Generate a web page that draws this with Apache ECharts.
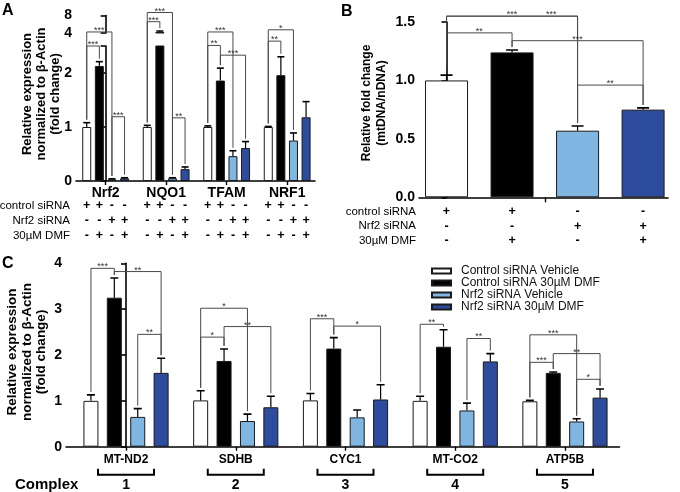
<!DOCTYPE html>
<html><head><meta charset="utf-8">
<script src="https://cdn.jsdelivr.net/npm/echarts@6/dist/echarts.min.js"></script>
<style>html,body{margin:0;padding:0;background:#fff}#c{width:680px;height:492px}</style>
</head><body><div id="c"></div>
<script>
// ---------- shared ----------
const seriesNames = ['Control siRNA Vehicle', 'Control siRNA 30µM DMF', 'Nrf2 siRNA Vehicle', 'Nrf2 siRNA 30µM DMF'];
const barColors = ['#ffffff', '#000000', '#7fb6e2', '#2e4c9d'];
const tableRows = ['control siRNA', 'Nrf2 siRNA', '30µM DMF'];
const ctrlSiRNA = ['+', '+', '-', '-'];
const nrf2SiRNA = ['-', '-', '+', '+'];
const dmfRow = ['-', '+', '-', '+'];

// ---------- panel A ----------
const genesA = ['Nrf2', 'NQO1', 'TFAM', 'NRF1'];
const aVehCtrl = [1.00, 1.00, 1.00, 1.00];
const aDmfCtrl = [2.13, 4.25, 1.86, 1.96];
const aVehNrf2 = [0.03, 0.05, 0.46, 0.75];
const aDmfNrf2 = [0.05, 0.22, 0.61, 1.18];
const aSemVehCtrl = [0.08, 0.03, 0.02, 0.01];
const aSemDmfCtrl = [0.08, 0.20, 0.23, 0.34];
const aSemVehNrf2 = [0.01, 0.01, 0.10, 0.14];
const aSemDmfNrf2 = [0.01, 0.04, 0.12, 0.29];
const aLowLabels = [0, 1, 2];
const aLowTicks = [0, 1, 2, 2.5];
const aUpTicks = [4, 8];
// [groupA, barA, groupB, barB, level, label, legEndA, legEndB, labelPos]
const bracketsA = [
  [0, 0, 0, 1, 2.50, '***'], [0, 0, 0, 2, 2.76, '***'], [0, 2, 0, 3, 1.19, '***'],
  [1, 0, 1, 1, 2.95, '***', null, 2.83], [1, 0, 1, 2, 3.12, '***'], [1, 2, 1, 3, 1.17, '**'],
  [2, 0, 2, 1, 2.51, '**'], [2, 0, 2, 2, 2.76, '***'], [2, 1, 2, 3, 2.33, '***'],
  [3, 0, 3, 1, 2.59, '**'], [3, 0, 3, 2, 2.80, '*']
];

// ---------- panel B ----------
const bValues = [1.00, 1.24, 0.57, 0.75];
const bSem = [0.045, 0.02, 0.04, 0.015];
const bTicks = [0, 0.5, 1.0, 1.5];
const bracketsB = [
  [0, 0, 2, 0, 1.55, '***', 1.12, null, 0.5], [0, 0, 2, 0, 1.55, '***', 1.12, null, 0.8],
  [0, 0, 1, 0, 1.407, '**', 1.12], [1, 0, 3, 0, 1.34, '***'], [2, 0, 3, 0, 0.96, '**']
];

// ---------- panel C ----------
const genesC = ['MT-ND2', 'SDHB', 'CYC1', 'MT-CO2', 'ATP5B'];
const complexes = ['1', '2', '3', '4', '5'];
const cVehCtrl = [1.00, 1.01, 1.01, 1.00, 0.99];
const cDmfCtrl = [3.25, 1.87, 2.14, 2.18, 1.61];
const cVehNrf2 = [0.65, 0.56, 0.64, 0.79, 0.55];
const cDmfNrf2 = [1.61, 0.86, 1.03, 1.86, 1.07];
const cSemVehCtrl = [0.13, 0.21, 0.15, 0.10, 0.02];
const cSemDmfCtrl = [0.43, 0.26, 0.24, 0.37, 0.02];
const cSemVehNrf2 = [0.18, 0.15, 0.16, 0.16, 0.06];
const cSemDmfNrf2 = [0.32, 0.24, 0.32, 0.17, 0.19];
const cTicks = [0, 1, 2, 3, 4];
const bracketsC = [
  [0, 0, 0, 1, 3.89, '***'], [0, 1, 0, 3, 3.82, '**'], [0, 2, 0, 3, 2.45, '**'],
  [1, 0, 1, 2, 3.02, '*'], [1, 0, 1, 1, 2.39, '*'], [1, 1, 1, 3, 2.62, '**'],
  [2, 0, 2, 1, 2.79, '***'], [2, 1, 2, 3, 2.63, '*'],
  [3, 0, 3, 1, 2.67, '**'], [3, 2, 3, 3, 2.36, '**'],
  [4, 0, 4, 2, 2.44, '***'], [4, 1, 4, 3, 2.03, '**'], [4, 0, 4, 1, 1.84, '***'], [4, 2, 4, 3, 1.47, '*']
];

// ---------- helpers ----------
const FF = "'Liberation Sans', Arial, sans-serif";
const FN = "'Liberation Sans Narrow', 'Arial Narrow', 'Liberation Sans', Arial, sans-serif";
const aVals = [aVehCtrl, aDmfCtrl, aVehNrf2, aDmfNrf2];
const aSems = [aSemVehCtrl, aSemDmfCtrl, aSemVehNrf2, aSemDmfNrf2];
const cVals = [cVehCtrl, cDmfCtrl, cVehNrf2, cDmfNrf2];
const cSems = [cSemVehCtrl, cSemDmfCtrl, cSemVehNrf2, cSemDmfNrf2];
const signRows = [ctrlSiRNA, nrf2SiRNA, dmfRow];

const A = { bw: 9, gap: 0.4, cap: 7 };
const B = { bw: 43, gap: 0.3, cap: 12 };
const C = { bw: 15, gap: 0.56, cap: 8 };

function offset(s, nSer, L) { return (s - (nSer - 1) / 2) * L.bw * (1 + L.gap); }

function barSeries(xi, yi, vals, L) {
  return vals.map((arr, s) => ({
    type: 'bar', name: seriesNames[s], xAxisIndex: xi, yAxisIndex: yi,
    data: arr.map((v, g) => [g, v]), barWidth: L.bw, barGap: (L.gap * 100) + '%',
    itemStyle: { color: barColors[s], borderColor: '#1a1a1a', borderWidth: 1 },
    clip: true, silent: true, z: 2
  }));
}

function errorSeries(xi, yi, vals, sems, L) {
  const nSer = vals.length, items = [];
  vals.forEach((arr, s) => arr.forEach((v, g) => items.push([g, s])));
  return {
    type: 'custom', xAxisIndex: xi, yAxisIndex: yi, clip: true, silent: true, z: 5,
    data: items.map(() => [0, 0]),
    renderItem(params, api) {
      const [g, s] = items[params.dataIndex];
      const m = vals[s][g], t = m + sems[s][g];
      const x = api.coord([g, m])[0] + offset(s, nSer, L);
      const y0 = api.coord([g, m])[1], y1 = api.coord([g, t])[1];
      return { type: 'group', children: [
        { type: 'line', shape: { x1: x, y1: y0, x2: x, y2: y1 }, style: { stroke: '#000', lineWidth: 1.2 } },
        { type: 'line', shape: { x1: x - L.cap / 2, y1: y1, x2: x + L.cap / 2, y2: y1 }, style: { stroke: '#000', lineWidth: 1.6 } }
      ] };
    }
  };
}

function bracketSeries(xi, yi, list, vals, sems, L) {
  const nSer = vals.length;
  return {
    type: 'custom', xAxisIndex: xi, yAxisIndex: yi, clip: false, silent: true, z: 6,
    data: list.map(() => [0, 0]),
    renderItem(params, api) {
      const [gA, sA, gB, sB, level, label, endA, endB, frac] = list[params.dataIndex];
      const xA = api.coord([gA, 0])[0] + offset(sA, nSer, L);
      const xB = api.coord([gB, 0])[0] + offset(sB, nSer, L);
      const yL = api.coord([0, level])[1];
      const legEnd = (g, s, e) => e != null ? api.coord([0, e])[1] : api.coord([0, vals[s][g] + sems[s][g]])[1] - 3;
      const yA = legEnd(gA, sA, endA), yB = legEnd(gB, sB, endB);
      const f = frac != null ? frac : 0.5;
      return { type: 'group', children: [
        { type: 'polyline', shape: { points: [[xA, yA], [xA, yL], [xB, yL], [xB, yB]] }, style: { stroke: '#4a4a4a', lineWidth: 1, fill: 'none' } },
        { type: 'text', x: xA + (xB - xA) * f, y: yL + 3, style: { text: label, font: '9px ' + FF, fill: '#333', align: 'center', verticalAlign: 'bottom' } }
      ] };
    }
  };
}

function tableSeries(xi, yi, nGroups, nSer, L, rowOffsets) {
  const items = [];
  for (let g = 0; g < nGroups; g++) for (let s = 0; s < nSer; s++) items.push([g, s]);
  return {
    type: 'custom', xAxisIndex: xi, yAxisIndex: yi, clip: false, silent: true, z: 6,
    data: items.map(() => [0, 0]),
    renderItem(params, api) {
      const [g, s] = items[params.dataIndex];
      const p = api.coord([g, 0]);
      const x = p[0] + offset(s, nSer, L);
      const cond = nSer === 1 ? g : s;
      return { type: 'group', children: signRows.map((row, k) => ({
        type: 'text', x: x, y: p[1] + rowOffsets[k],
        style: { text: row[cond], font: 'bold 12.5px ' + FF, fill: '#000', align: 'center', verticalAlign: 'middle' }
      })) };
    }
  };
}

function complexSeries(xi, yi) {
  return {
    type: 'custom', xAxisIndex: xi, yAxisIndex: yi, clip: false, silent: true, z: 6,
    data: complexes.map(() => [0, 0]),
    renderItem(params, api) {
      const g = params.dataIndex;
      const p = api.coord([g, 0]);
      const yb = p[1] + 28, hw = 28;
      return { type: 'group', children: [
        { type: 'polyline', shape: { points: [[p[0] - hw, yb - 6], [p[0] - hw, yb], [p[0] + hw, yb], [p[0] + hw, yb - 6]] }, style: { stroke: '#000', lineWidth: 2, fill: 'none' } },
        { type: 'text', x: p[0], y: yb + 10, style: { text: complexes[g], font: 'bold 14px ' + FF, fill: '#000', align: 'center', verticalAlign: 'middle' } }
      ] };
    }
  };
}

const axisLine = { show: true, lineStyle: { color: '#000', width: 1.6 } };
function yAxis(gi, min, max, labels, ticks, fmt) {
  return {
    type: 'value', gridIndex: gi, min: min, max: max,
    axisLine: axisLine, splitLine: { show: false },
    axisTick: { show: true, length: 5, lineStyle: { color: '#000', width: 1.6 }, customValues: ticks },
    axisLabel: { customValues: labels, margin: 4, color: '#000', fontWeight: 'bold', fontSize: 14, fontFamily: FF, formatter: fmt }
  };
}

const chart = echarts.init(document.getElementById('c'), null, { renderer: 'canvas' });
const option = {
  animation: false,
  backgroundColor: '#fff',
  textStyle: { fontFamily: FF },
  grid: [
    { left: 76, top: 15.5, width: 239, height: 17.5, outerBoundsMode: 'none' },
    { left: 76, top: 46, width: 239, height: 135, outerBoundsMode: 'none' },
    { left: 419, top: 22, width: 249, height: 175.3, outerBoundsMode: 'none' },
    { left: 66, top: 263.3, width: 553.5, height: 183.4, outerBoundsMode: 'none' }
  ],
  xAxis: [
    { type: 'value', gridIndex: 0, min: -0.49, max: 3.46, show: false },
    { type: 'value', gridIndex: 1, min: -0.49, max: 3.46, axisLine: axisLine, splitLine: { show: false },
      axisTick: { length: 4, lineStyle: { color: '#000', width: 1.4 }, customValues: [0, 1, 2, 3] },
      axisLabel: { customValues: [0, 1, 2, 3], formatter: v => genesA[v], margin: 5, color: '#000', fontWeight: 'bold', fontSize: 14, fontFamily: FF } },
    { type: 'value', gridIndex: 2, min: -0.42, max: 3.38, axisLine: axisLine, splitLine: { show: false },
      axisTick: { length: 5, lineStyle: { color: '#000', width: 1.4 }, customValues: [1.5] },
      axisLabel: { show: false } },
    { type: 'value', gridIndex: 3, min: -0.547, max: 4.497, axisLine: axisLine, splitLine: { show: false },
      axisTick: { length: 4, lineStyle: { color: '#000', width: 1.4 }, customValues: [0, 1, 2, 3, 4] },
      axisLabel: { customValues: [0, 1, 2, 3, 4], formatter: v => genesC[v], margin: 7, color: '#000', fontWeight: 'bold', fontSize: 12, fontFamily: FN } }
  ],
  yAxis: [
    yAxis(0, 4, 8, aUpTicks, aUpTicks, v => String(v)),
    yAxis(1, 0, 2.5, aLowLabels, aLowTicks, v => String(v)),
    yAxis(2, 0, 1.5, bTicks, bTicks, v => v.toFixed(1)),
    yAxis(3, 0, 4, cTicks, cTicks, v => String(v))
  ],
  legend: {
    data: seriesNames, orient: 'vertical', left: 431, top: 265, itemWidth: 19, itemHeight: 5, itemGap: 0,
    icon: 'rect', selectedMode: false, padding: 0,
    textStyle: { fontSize: 12, lineHeight: 10.7, color: '#111', fontFamily: FF, padding: [0, 0, 0, 5] }
  },
  graphic: [
    { type: 'text', x: 2, y: 3, style: { text: 'A', font: 'bold 16px ' + FF, fill: '#000' } },
    { type: 'text', x: 341, y: 4, style: { text: 'B', font: 'bold 16px ' + FF, fill: '#000' } },
    { type: 'text', x: 2, y: 256, style: { text: 'C', font: 'bold 16px ' + FF, fill: '#000' } },
    { type: 'text', x: 41, y: 94, rotation: Math.PI / 2, style: { text: 'Relative expression\nnormalized to β-Actin\n(fold change)', font: 'bold 13px ' + FF, lineHeight: 14, fill: '#000', align: 'center', verticalAlign: 'middle' } },
    { type: 'text', x: 374.5, y: 103, rotation: Math.PI / 2, style: { text: 'Relative fold change\n(mtDNA/nDNA)', font: 'bold 12px ' + FF, lineHeight: 15, fill: '#000', align: 'center', verticalAlign: 'middle' } },
    { type: 'text', x: 27, y: 352, rotation: Math.PI / 2, style: { text: 'Relative expression\nnormalized to β-Actin\n(fold change)', font: 'bold 13.5px ' + FF, lineHeight: 14.5, fill: '#000', align: 'center', verticalAlign: 'middle' } },
    ...tableRows.map((t, k) => ({ type: 'text', x: 70, y: 206 + k * 14.7, style: { text: t, font: '11.5px ' + FF, fill: '#000', align: 'right', verticalAlign: 'middle' } })),
    ...tableRows.map((t, k) => ({ type: 'text', x: 416, y: 211.5 + k * 14.6, style: { text: t, font: '11.5px ' + FF, fill: '#000', align: 'right', verticalAlign: 'middle' } })),
    { type: 'text', x: 15, y: 484.5, style: { text: 'Complex', font: 'bold 15px ' + FF, fill: '#000', align: 'left', verticalAlign: 'middle' } }
  ],
  series: [
    ...barSeries(0, 0, aVals, A),
    ...barSeries(1, 1, aVals, A),
    errorSeries(0, 0, aVals, aSems, A),
    errorSeries(1, 1, aVals, aSems, A),
    bracketSeries(1, 1, bracketsA, aVals, aSems, A),
    tableSeries(1, 1, genesA.length, 4, A, [25, 39.7, 54.4]),
    {
      type: 'bar', name: 'mtDNA/nDNA', xAxisIndex: 2, yAxisIndex: 2, barWidth: B.bw, silent: true, z: 2,
      data: bValues.map((v, i) => ({ value: [i, v], itemStyle: { color: barColors[i], borderColor: '#1a1a1a', borderWidth: 1 } }))
    },
    errorSeries(2, 2, [bValues], [bSem], B),
    bracketSeries(2, 2, bracketsB, [bValues], [bSem], B),
    tableSeries(2, 2, bValues.length, 1, B, [14.2, 28.8, 43.4]),
    ...barSeries(3, 3, cVals, C),
    errorSeries(3, 3, cVals, cSems, C),
    bracketSeries(3, 3, bracketsC, cVals, cSems, C),
    complexSeries(3, 3)
  ]
};
chart.setOption(option);
</script>
</body></html>
